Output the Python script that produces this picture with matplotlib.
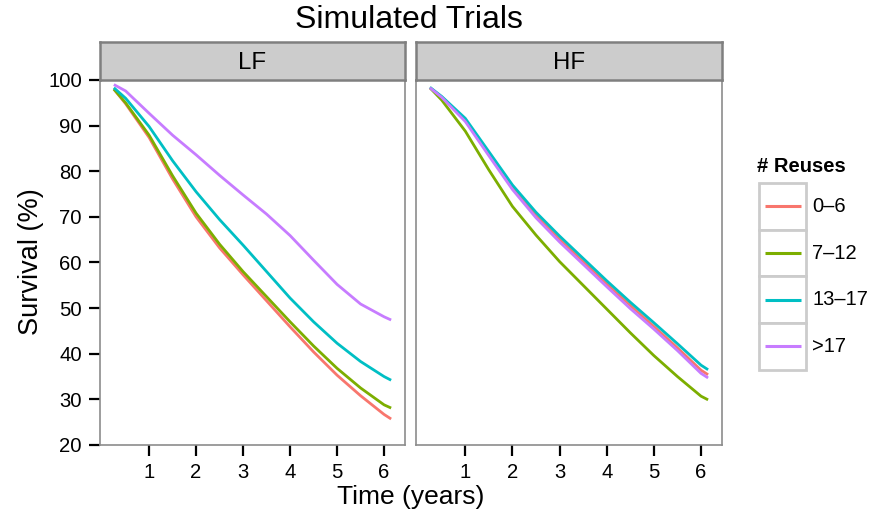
import numpy as np
import matplotlib
matplotlib.use("Agg")
from matplotlib import pyplot as plt
from matplotlib.patches import Rectangle

plt.rcParams['font.family'] = ['Liberation Sans', 'DejaVu Sans']

# time points (years)
years = [0.25, 0.5, 1.0, 1.5, 2.0, 2.5, 3.0, 3.5, 4.0, 4.5, 5.0, 5.5, 6.0, 6.15]

groups = ["0–6", "7–12", "13–17", ">17"]
colors = ["#F8766D", "#7CAE00", "#00BFC4", "#C77CFF"]
panels = ["LF", "HF"]

# survival (%)
lf_0_6   = [98.0, 94.8, 87.4, 78.3, 70.0, 63.2, 57.3, 51.6, 45.9, 40.4, 35.3, 30.8, 26.7, 25.7]
lf_7_12  = [98.0, 95.0, 87.9, 79.0, 70.8, 64.0, 58.0, 52.5, 47.0, 41.7, 36.8, 32.5, 28.8, 28.1]
lf_13_17 = [98.3, 96.0, 89.8, 82.3, 75.5, 69.4, 63.8, 58.0, 52.2, 47.0, 42.3, 38.3, 35.0, 34.2]
lf_gt17  = [99.0, 97.6, 92.7, 87.9, 83.6, 79.1, 74.8, 70.6, 65.9, 60.5, 55.2, 50.9, 48.1, 47.4]

hf_0_6   = [98.3, 96.2, 91.2, 83.8, 76.4, 70.3, 65.1, 60.2, 55.3, 50.6, 46.0, 41.3, 36.4, 35.4]
hf_7_12  = [98.3, 95.6, 88.8, 80.3, 72.3, 66.0, 60.2, 55.0, 49.8, 44.6, 39.6, 35.0, 30.7, 29.9]
hf_13_17 = [98.4, 96.4, 91.6, 84.3, 77.0, 71.0, 65.8, 60.9, 56.0, 51.3, 46.8, 42.2, 37.5, 36.5]
hf_gt17  = [98.3, 96.2, 90.9, 83.4, 76.0, 69.8, 64.5, 59.6, 54.7, 49.9, 45.4, 40.7, 35.7, 34.7]

data = {"LF": [lf_0_6, lf_7_12, lf_13_17, lf_gt17],
        "HF": [hf_0_6, hf_7_12, hf_13_17, hf_gt17]}

W, H = 874, 516
fig = plt.figure(figsize=(W / 100, H / 100), dpi=100)

def fbox(x0, y0, x1, y1):
    return [x0 / W, 1 - y1 / H, (x1 - x0) / W, (y1 - y0) / H]

panel_x = [(100, 405), (416, 722)]
for i, name in enumerate(panels):
    x0, x1 = panel_x[i]
    ax = fig.add_axes(fbox(x0, 80, x1, 445))
    for vals, c in zip(data[name], colors):
        ax.plot(years, vals, color=c, lw=2.0, solid_capstyle='butt',
                solid_joinstyle='round')
    ax.set_xlim(-0.045, 6.445)
    ax.set_ylim(20, 100)
    ax.set_xticks([1, 2, 3, 4, 5, 6])
    ax.set_yticks(range(20, 101, 10))
    for s in ax.spines.values():
        s.set_color('#8C8C8C')
        s.set_linewidth(1.2)
    ax.tick_params(axis='both', direction='out', length=8, width=1.6,
                   color='black', labelsize=14.6, pad=5)
    if i > 0:
        ax.tick_params(axis='y', left=False, labelleft=False)

    # facet strip
    st = fig.add_axes(fbox(x0, 42, x1, 80))
    st.set_facecolor('#CCCCCC')
    st.set_xticks([])
    st.set_yticks([])
    for s in st.spines.values():
        s.set_color('#7F7F7F')
        s.set_linewidth(1.8)
    st.text(0.5, 0.45, name, ha='center', va='center', fontsize=17.3,
            transform=st.transAxes)

fig.text(409 / W, 1 - 20 / H, "Simulated Trials", ha='center', va='center',
         fontsize=23)
fig.text(411 / W, 1 - 497 / H, "Time (years)", ha='center', va='center',
         fontsize=19)
fig.text(31 / W, 1 - 262 / H, "Survival (%)", ha='center', va='center',
         rotation=90, fontsize=19.5)

# legend drawn by hand, ggplot style
lg = fig.add_axes([740 / W, 1 - 385 / H, 134 / W, 245 / H])
lg.set_xlim(740, 874)
lg.set_ylim(385, 140)
lg.axis('off')
lg.text(757, 166, "# Reuses", fontsize=14.5, fontweight='bold',
        ha='left', va='center')
key_h = 46.7
for k, (lab, c) in enumerate(zip(groups, colors)):
    top = 183 + k * key_h
    lg.add_patch(Rectangle((759, top), 47, key_h, facecolor='white',
                           edgecolor='#CCCCCC', lw=2.0))
    cy = top + key_h / 2
    lg.plot([765, 801], [cy, cy], color=c, lw=2.2, solid_capstyle='butt')
    lg.text(812, cy, lab, fontsize=14.5, ha='left', va='center')

fig.savefig("out.png", dpi=100)
